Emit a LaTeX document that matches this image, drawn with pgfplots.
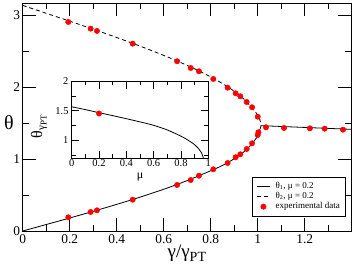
\documentclass[border=0pt]{standalone}
\usepackage{fontspec}
\setmainfont{Liberation Serif}
\usepackage{pgfplots}
\pgfplotsset{compat=1.18}
\begin{document}
\begin{tikzpicture}
\useasboundingbox (-22.7pt,-37pt) rectangle (330.3pt,231pt);
\begin{axis}[
  at={(0pt,0pt)}, anchor=south west,
  scale only axis, width=328.3pt, height=228pt,
  xmin=0, xmax=1.397, ymin=0, ymax=3.175,
  xtick={0,0.2,0.4,0.6,0.8,1,1.2}, ytick={0,1,2,3},
  minor xtick={0.1,0.3,0.5,0.7,0.9,1.1,1.3},
  minor ytick={0.5,1.5,2.5},
  major tick length=13pt, minor tick length=6.5pt,
  tick style={black, line width=0.8pt},
  axis line style={line width=0.8pt},
  /pgf/number format/assume math mode=true,
  ticklabel style={font=\fontsize{13.4}{14}\selectfont},
  yticklabel style={inner xsep=2.5pt},
  xlabel={γ/γ{\fontsize{14}{14}\selectfont\raisebox{-4pt}{PT}}}, ylabel={θ},
  xlabel style={font=\fontsize{19}{19}\selectfont, at={(axis description cs:0.5,-0.062)}, anchor=north, inner sep=0pt},
  ylabel style={font=\fontsize{20}{20}\selectfont, rotate=-90, at={(axis description cs:-0.0417,0.474)}, anchor=center, inner sep=0pt},
  legend style={at={(axis description cs:1,0)}, anchor=south east, xshift=-5.3pt, yshift=15pt,
    draw=black, line width=0.5pt, font=\fontsize{9}{10}\selectfont,
    inner xsep=5pt, inner ysep=4pt, column sep=5pt, row sep=0pt,
    nodes={inner sep=0.6pt, text height=6.6pt, text depth=2.4pt}},
  legend cell align=left,
  legend image code/.code={\draw[mark repeat=2,mark phase=2,#1] plot coordinates {(0pt,0pt) (6.2pt,0pt) (12.4pt,0pt)};},
]
% theta_1 (lower branch)
\addplot[black, line width=0.8pt, smooth] coordinates {
(0,0) (0.1110,0.1) (0.2205,0.2) (0.3271,0.3) (0.4294,0.4) (0.5262,0.5)
(0.6162,0.6) (0.6984,0.7) (0.7719,0.8) (0.842,0.9) (0.897,1.0) (0.940,1.1)
(0.972,1.2) (0.995,1.3) (1.002,1.35) (1.008,1.4) (1.012,1.44) (1.014,1.467)};
\addlegendentry{θ\textsubscript{1}, μ = 0.2}
% theta_2 (upper branch)
\addplot[black, line width=0.8pt, dash pattern=on 4pt off 3pt, smooth] coordinates {
(0,3.1416) (0.0381,3.1) (0.1295,3.0) (0.2200,2.9) (0.3088,2.8) (0.3952,2.7)
(0.4786,2.6) (0.5583,2.5) (0.6336,2.4) (0.7037,2.3) (0.7680,2.2) (0.8257,2.1)
(0.8762,2.0) (0.9189,1.9) (0.9531,1.8) (0.978,1.7) (0.992,1.65) (1.001,1.6)
(1.009,1.55) (1.013,1.5) (1.014,1.467)};
\addlegendentry{θ\textsubscript{2}, μ = 0.2}
% experimental data
\addplot[only marks, mark=*, mark size=2.7pt, color=red] coordinates {
(0.194,2.911) (0.289,2.818) (0.316,2.786) (0.468,2.609) (0.657,2.364) (0.715,2.270)
(0.750,2.224) (0.811,2.117) (0.872,1.996) (0.906,1.918) (0.926,1.876) (0.953,1.797)
(0.976,1.723) (1.000,1.592)
(0.194,0.191) (0.289,0.265) (0.316,0.288) (0.468,0.436) (0.657,0.641) (0.715,0.710)
(0.750,0.770) (0.811,0.859) (0.872,0.947) (0.906,1.027) (0.926,1.068) (0.953,1.142)
(0.976,1.221) (1.000,1.337) (1.003,1.375)
(1.035,1.444) (1.112,1.435) (1.222,1.430) (1.285,1.425) (1.363,1.411)};
\addlegendentry{experimental data}
% branch above gamma_PT
\addplot[black, line width=0.8pt, forget plot] coordinates {(1.014,1.467) (1.397,1.416)};
\end{axis}
\begin{axis}[
  at={(49pt,73pt)}, anchor=south west,
  scale only axis, width=136.6pt, height=76.7pt,
  xmin=0, xmax=1, ymin=0.7, ymax=2,
  xtick={0,0.2,0.4,0.6,0.8,1}, ytick={1,1.5,2},
  minor xtick={0.1,0.3,0.5,0.7,0.9},
  minor ytick={0.75,1.25,1.75},
  major tick length=7.5pt, minor tick length=4pt,
  tick style={black, line width=0.8pt},
  axis line style={line width=0.8pt},
  axis background/.style={fill=white},
  /pgf/number format/assume math mode=true,
  ticklabel style={font=\fontsize{10.5}{11}\selectfont},
  xticklabel style={inner ysep=1.5pt},
  yticklabel style={inner xsep=3pt},
  xlabel={μ},
  ylabel={θ{\fontsize{11}{11}\selectfont\raisebox{-2.5pt}{γ}{\fontsize{9}{9}\selectfont\raisebox{-4.5pt}{PT}}}},
  xlabel style={font=\fontsize{12}{12}\selectfont, at={(axis description cs:0.5,-0.248)}, anchor=center, inner sep=0pt},
  ylabel style={font=\fontsize{16}{16}\selectfont, at={(axis description cs:-0.239,0.41)}, anchor=center, inner sep=0pt},
]
\addplot[black, line width=0.8pt, smooth] coordinates {
(0,1.568) (0.1,1.52) (0.2,1.468) (0.3,1.418) (0.4,1.366) (0.5,1.312) (0.6,1.254)
(0.7,1.175) (0.8,1.07) (0.85,1.005) (0.9,0.925) (0.93,0.855) (0.95,0.79) (0.964,0.70)};
\addplot[only marks, mark=*, mark size=2.7pt, color=red] coordinates {(0.2,1.455)};
\end{axis}
\end{tikzpicture}
\end{document}
